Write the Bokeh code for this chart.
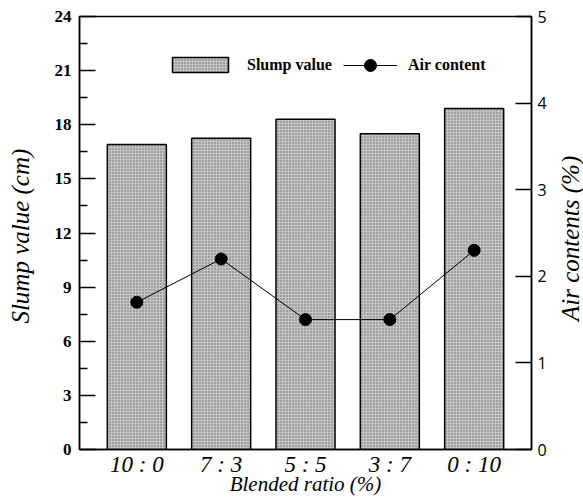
from bokeh.plotting import figure
from bokeh.models import Range1d, LinearAxis, FixedTicker, Legend, LegendItem, ColumnDataSource, Div
from bokeh.layouts import row
from bokeh.embed import file_html
from bokeh.resources import INLINE

categories = ["10 : 0", "7 : 3", "5 : 5", "3 : 7", "0 : 10"]
slump_values = [16.9, 17.25, 18.3, 17.5, 18.9]
air_contents = [1.7, 2.2, 1.5, 1.5, 2.3]
slump_ticks = [0, 3, 6, 9, 12, 15, 18, 21, 24]
air_ticks = [0, 1, 2, 3, 4, 5]

xs = list(range(len(categories)))
src = ColumnDataSource(dict(x=xs, slump=slump_values, air=air_contents))

SERIF = "Liberation Serif"

p = figure(width=549, height=499, output_backend="svg", toolbar_location=None,
           x_range=Range1d(-0.68, len(categories) - 1 + 0.68), y_range=Range1d(0, 24),
           min_border_left=79, min_border_right=18, min_border_top=16, min_border_bottom=50)
p.extra_y_ranges = {"air": Range1d(0, 5)}
p.grid.visible = False
p.background_fill_color = "white"
p.outline_line_color = "black"
p.outline_line_width = 1.5

bars = p.vbar(x="x", top="slump", width=0.7, source=src, fill_color="#c4c4c4",
              line_color="black", line_width=1.5, hatch_pattern="dot",
              hatch_color="#666666", hatch_scale=3, hatch_weight=1)
line = p.line(x="x", y="air", source=src, y_range_name="air", line_color="black", line_width=1)
pts = p.scatter(x="x", y="air", source=src, y_range_name="air", size=12,
                fill_color="black", line_color="black")

# x axis
xa = p.xaxis[0]
xa.ticker = FixedTicker(ticks=xs)
xa.major_label_overrides = {i: c for i, c in zip(xs, categories)}
xa.major_tick_in = 0
xa.major_tick_out = 0
xa.minor_tick_line_color = None
xa.major_label_text_font = SERIF
xa.major_label_text_font_style = "italic"
xa.major_label_text_font_size = "23px"
xa.major_label_text_color = "black"
xa.major_label_standoff = 2
xa.axis_label = "Blended ratio (%)"
xa.axis_label_text_font = SERIF
xa.axis_label_text_font_style = "italic"
xa.axis_label_text_font_size = "21px"
xa.axis_label_text_color = "black"
xa.axis_label_standoff = -8
xa.axis_line_width = 1.5

# left axis
ya = p.yaxis[0]
ya.ticker = FixedTicker(ticks=slump_ticks, minor_ticks=[v + 1.5 for v in slump_ticks[:-1]])
ya.major_tick_in = 16
ya.major_tick_out = 0
ya.minor_tick_in = 8
ya.minor_tick_out = 0
ya.major_tick_line_width = 1.5
ya.minor_tick_line_width = 1.5
ya.major_label_text_font = SERIF
ya.major_label_text_font_style = "bold"
ya.major_label_text_font_size = "17px"
ya.major_label_text_color = "black"
ya.major_label_standoff = 8
ya.axis_label = "Slump value  (cm)"
ya.axis_label_text_font = SERIF
ya.axis_label_text_font_style = "italic"
ya.axis_label_text_font_size = "25px"
ya.axis_label_text_color = "black"
ya.axis_label_standoff = 18
ya.axis_line_width = 1.5

# right axis
ra = LinearAxis(y_range_name="air", ticker=FixedTicker(ticks=air_ticks))
ra.major_tick_in = 16
ra.major_tick_out = 0
ra.minor_tick_line_color = None
ra.major_tick_line_width = 1.5
ra.major_label_text_font = "Open Sans"
ra.major_label_text_font_size = "16px"
ra.major_label_text_color = "black"
ra.major_label_standoff = 6
ra.axis_line_width = 1.5
p.add_layout(ra, "right")

common = dict(orientation="horizontal", padding=0, margin=0, spacing=0,
              border_line_alpha=0, background_fill_alpha=0,
              label_text_font=SERIF, label_text_font_style="bold",
              label_text_font_size="16px", label_text_color="black")
legend1 = Legend(items=[LegendItem(label="Slump value", renderers=[bars])],
                 location=(86, 375), glyph_width=70, glyph_height=19, label_height=19,
                 label_standoff=12, **common)
legend2 = Legend(items=[LegendItem(label="Air content", renderers=[line, pts])],
                 location=(264, 369), glyph_width=54, glyph_height=30, label_height=30,
                 label_standoff=11, **common)
p.add_layout(legend1)
p.add_layout(legend2)

right_title = Div(text="Air contents (%)", width=34, height=466,
                  styles={"writing-mode": "vertical-rl",
                          "transform": "rotate(180deg)",
                          "display": "flex", "justify-content": "center",
                          "align-items": "center", "white-space": "nowrap",
                          "font-family": SERIF, "font-style": "italic",
                          "font-size": "25px", "color": "black"})

layout = row(p, right_title)
open("out.html", "w").write(file_html(layout, INLINE))
